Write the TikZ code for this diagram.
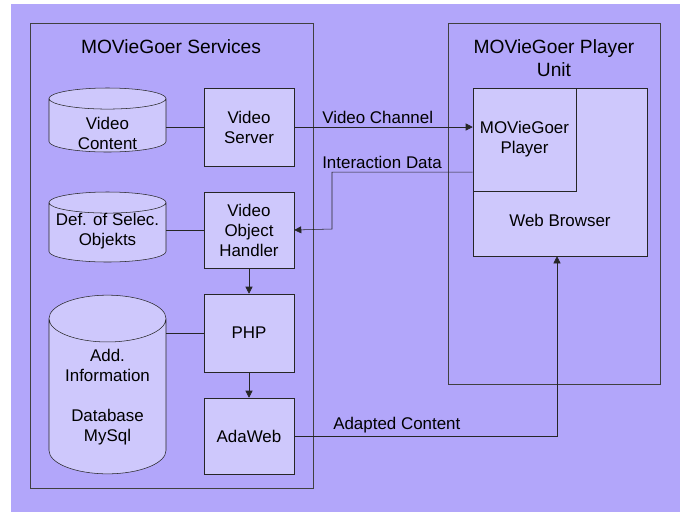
\documentclass[tikz,border=0pt]{standalone}
\usepackage{xcolor}
\usepackage{fontspec}
\setmainfont{Liberation Sans}
\usepackage{tikz}
\usetikzlibrary{positioning,shapes.geometric,arrows.meta}

\definecolor{bgpurple}{RGB}{178,166,250}
\definecolor{boxfill}{RGB}{206,200,252}

\tikzset{
  procbox/.style={draw=black!85, fill=boxfill, inner sep=0pt, align=center,
    minimum width=67.5pt, font=\fontsize{12.7}{15}\selectfont},
  store/.style={cylinder, shape border rotate=90, draw=black!85, fill=boxfill,
    inner xsep=43.875pt, inner ysep=0pt, anchor=shape center, minimum width=87.75pt},
  storetext/.style={align=center, inner sep=0pt, font=\fontsize{12.7}{15}\selectfont},
  flowlabel/.style={anchor=west, inner sep=0pt, font=\fontsize{12.7}{15}\selectfont},
  grouptitle/.style={align=center, inner sep=0pt, font=\fontsize{14.4}{17.3}\selectfont},
  flow/.style={draw=black!85, -{Triangle[length=5.25pt,width=5.25pt]}}
}

\begin{document}
\begin{tikzpicture}[x=0.75pt,y=0.75pt,yscale=-1,xscale=1]
\useasboundingbox (0,0) rectangle (683,512);
\fill[white] (0,0) rectangle (683,512);
\fill[bgpurple] (11,4) rectangle (680,512);

%Shape: Rectangle (services group)
        \draw[black!75] (30,23) rectangle (313,488);
%Shape: Rectangle (player unit group)
        \draw[black!75] (448,23) rectangle (660,384);

% Text Node
        \node[grouptitle] (servicestitle) at (171,47) {MOVieGoer Services};
% Text Node
        \node[grouptitle] (unittitle) at (554,58) {MOVieGoer Player\\Unit};

% Boxes
        \node[procbox, minimum height=58.5pt] (vserver) at (249,127) {Video\\Server};
        \node[procbox, minimum height=57pt] (vobject) at (249,230) {Video\\Object\\Handler};
        \node[procbox, minimum height=58.5pt] (php) at (249,333) {PHP};
        \node[procbox, minimum height=57pt] (adaweb) at (249,436) {AdaWeb};

% Stores
        \node[store, aspect=0.18, minimum height=48pt] (vcontent) at (107.5,120) {};
        \node[store, aspect=0.18, minimum height=52.5pt] (selobj) at (107.5,227) {};
        \node[store, aspect=0.4, minimum height=134pt] (addinfo) at (107.5,384.5) {};
% Text Node
        \node[storetext] (vcontenttxt) at (107.5,133) {Video\\Content};
        \node[storetext] (selobjtxt) at (107.5,231) {Def. of Selec.\\Objekts};
        \node[storetext] (addinfotxt) at (107.5,397) {Add.\\Information\\[15pt]Database\\MySql};

% Player unit
        \node[procbox, minimum width=130.5pt, minimum height=126pt,
          label={[font=\fontsize{12.7}{15}\selectfont, yshift=-36pt]center:Web Browser}] (browser) at (560,172) {};
        \node[procbox, minimum width=77.25pt, minimum height=77.25pt] (player) at (524.5,139.5) {MOVieGoer\\Player};

% Connection
        \draw[black!85] (vcontent.east |- vserver.west) -- (vserver.west);
        \draw[black!85] (selobj.east |- vobject.west) -- (vobject.west);
        \draw[black!85] (addinfo.east |- php.west) -- (php.west);
% Connection
        \draw[flow] (vserver.east) -- (vserver.east -| player.west);
        \node[flowlabel] (vchannel) at (322,117) {Video Channel};
% Connection
        \coordinate (ibend) at (332,229);
        \draw[flow] ([yshift=24.4pt]player.west) -| (ibend) -- (vobject.east);
        \node[flowlabel] (idata) at (322,162) {Interaction Data};
% Connection
        \draw[flow] (vobject.south) -- (php.north);
        \draw[flow] (php.south) -- (adaweb.north);
% Connection
        \draw[flow] (adaweb.east) -| ([xshift=-2.25pt]browser.south);
        \node[flowlabel] (acontent) at (333,425) {Adapted Content};

\end{tikzpicture}
\end{document}
